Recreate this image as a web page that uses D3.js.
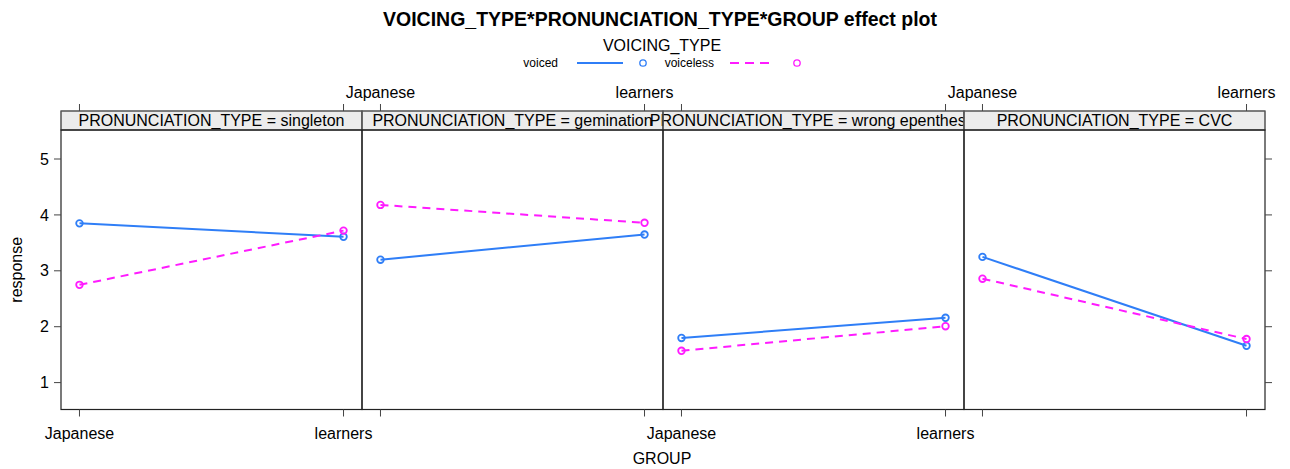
<!DOCTYPE html>
<html>
<head>
<meta charset="utf-8">
<script src="https://cdn.jsdelivr.net/npm/d3@7"></script>
<style>
  body { margin: 0; background: #fff; }
  text { font-family: "Liberation Sans", Arial, Helvetica, sans-serif; fill: #000; }
</style>
</head>
<body>
<svg id="chart" width="1290" height="469"></svg>
<script>
// Effect plot: response by GROUP, split by VOICING_TYPE, one panel per PRONUNCIATION_TYPE
const panels = ["singleton", "gemination", "wrong epenthesis", "CVC"];
const groups = ["Japanese", "learners"];
const voicingTypes = ["voiced", "voiceless"];
const voicedValues = [
  [3.84, 3.60],
  [3.19, 3.64],
  [1.79, 2.15],
  [3.24, 1.65]
];
const voicelessValues = [
  [2.74, 3.71],
  [4.17, 3.85],
  [1.56, 2.00],
  [2.85, 1.77]
];
const yTicks = [1, 2, 3, 4, 5];

const colors = { voiced: "#2f7ef7", voiceless: "#ff1bff" };
const dashes = { voiced: null, voiceless: "8,6" };

const svg = d3.select("#chart");
const left = 61, right = 1265, plotTop = 130, plotBottom = 409.5, stripTop = 111;
const panelW = (right - left) / panels.length;
const fs = "16px";

const y = d3.scaleLinear().domain([0.51, 5.51]).range([plotBottom, plotTop]);
const panelScale = d3.scaleBand().domain(panels).range([left, right]);
const x = d3.scalePoint().domain(groups).range([0, panelW]).padding(0.07);

// Title and legend
svg.append("text").attr("x", 660).attr("y", 26).attr("text-anchor", "middle")
  .style("font-size", "19.5px").style("font-weight", "bold")
  .text("VOICING_TYPE*PRONUNCIATION_TYPE*GROUP effect plot");
svg.append("text").attr("x", 662).attr("y", 51).attr("text-anchor", "middle")
  .style("font-size", fs).text("VOICING_TYPE");

const legendItems = [
  { key: "voiced", textX: 558, lineX: [577, 623], circleX: 643 },
  { key: "voiceless", textX: 714, lineX: [730, 775], circleX: 797 }
];
const legY = 63;
legendItems.forEach(d => {
  svg.append("text").attr("x", d.textX).attr("y", legY + 4).attr("text-anchor", "end")
    .style("font-size", "12px").text(d.key);
  svg.append("line").attr("x1", d.lineX[0]).attr("x2", d.lineX[1]).attr("y1", legY).attr("y2", legY)
    .attr("stroke", colors[d.key]).attr("stroke-width", 2)
    .attr("stroke-dasharray", dashes[d.key] ? "9,6" : null);
  svg.append("circle").attr("cx", d.circleX).attr("cy", legY).attr("r", 3.2)
    .attr("fill", "none").attr("stroke", colors[d.key]).attr("stroke-width", 1.3);
});

// Strips: drawn in order, so each strip's background covers any overflow of the previous label
panels.forEach((p, i) => {
  const x0 = panelScale(p);
  svg.append("rect").attr("x", x0).attr("y", stripTop).attr("width", panelW).attr("height", plotTop - stripTop)
    .attr("fill", "#ececec").attr("stroke", "#555").attr("stroke-width", 1);
  svg.append("text")
    .attr("x", x0 + panelW / 2).attr("y", stripTop + 14.8).attr("text-anchor", "middle")
    .style("font-size", fs).text(`PRONUNCIATION_TYPE = ${p}`);
});
// redraw strip borders on top
panels.forEach(p => {
  svg.append("rect").attr("x", panelScale(p)).attr("y", stripTop).attr("width", panelW)
    .attr("height", plotTop - stripTop).attr("fill", "none").attr("stroke", "#555").attr("stroke-width", 1);
});

// Panels
panels.forEach((p, i) => {
  const x0 = panelScale(p);
  const g = svg.append("g").attr("transform", `translate(${x0},0)`);

  // panel frame
  g.append("rect").attr("x", 0).attr("y", plotTop).attr("width", panelW).attr("height", plotBottom - plotTop)
    .attr("fill", "none").attr("stroke", "#222").attr("stroke-width", 1.2);

  // x ticks at top and bottom; labels alternate
  groups.forEach(gr => {
    const tx = x(gr);
    g.append("line").attr("x1", tx).attr("x2", tx).attr("y1", plotBottom).attr("y2", plotBottom + 7)
      .attr("stroke", "#444");
    g.append("line").attr("x1", tx).attr("x2", tx).attr("y1", stripTop).attr("y2", stripTop - 7)
      .attr("stroke", "#444");
    if (i % 2 === 0) {
      g.append("text").attr("x", tx).attr("y", plotBottom + 29).attr("text-anchor", "middle")
        .style("font-size", fs).text(gr);
    } else {
      g.append("text").attr("x", tx).attr("y", stripTop - 13).attr("text-anchor", "middle")
        .style("font-size", fs).text(gr);
    }
  });

  // series
  const series = [
    { key: "voiced", vals: voicedValues[i] },
    { key: "voiceless", vals: voicelessValues[i] }
  ];
  series.forEach(s => {
    const pts = groups.map((gr, k) => [x(gr), y(s.vals[k])]);
    g.append("path").attr("d", d3.line()(pts)).attr("fill", "none")
      .attr("stroke", colors[s.key]).attr("stroke-width", 2)
      .attr("stroke-dasharray", dashes[s.key]);
    g.selectAll(null).data(pts).enter().append("circle")
      .attr("cx", d => d[0]).attr("cy", d => d[1]).attr("r", 3.3)
      .attr("fill", "none").attr("stroke", colors[s.key]).attr("stroke-width", 1.8);
  });
});

// y axis (left, labelled) and right ticks
const yAxisL = d3.axisLeft(y).tickValues(yTicks).tickSize(7).tickSizeOuter(0).tickFormat(d3.format("d"));
const gl = svg.append("g").attr("transform", `translate(${left},0)`).call(yAxisL);
gl.select(".domain").remove();
gl.selectAll("line").attr("stroke", "#444");
gl.selectAll("text").style("font-size", fs).attr("x", -12).attr("dy", "0.35em")
  .style("font-family", "'Liberation Sans', Arial, sans-serif");

const yAxisR = d3.axisRight(y).tickValues(yTicks).tickSize(7).tickFormat("");
const gr = svg.append("g").attr("transform", `translate(${right},0)`).call(yAxisR);
gr.select(".domain").remove();
gr.selectAll("line").attr("stroke", "#444");

// axis titles
svg.append("text").attr("transform", `translate(22,${(plotTop + plotBottom) / 2}) rotate(-90)`)
  .attr("text-anchor", "middle").style("font-size", fs).text("response");
svg.append("text").attr("x", 662).attr("y", 464).attr("text-anchor", "middle")
  .style("font-size", fs).text("GROUP");
</script>
</body>
</html>
